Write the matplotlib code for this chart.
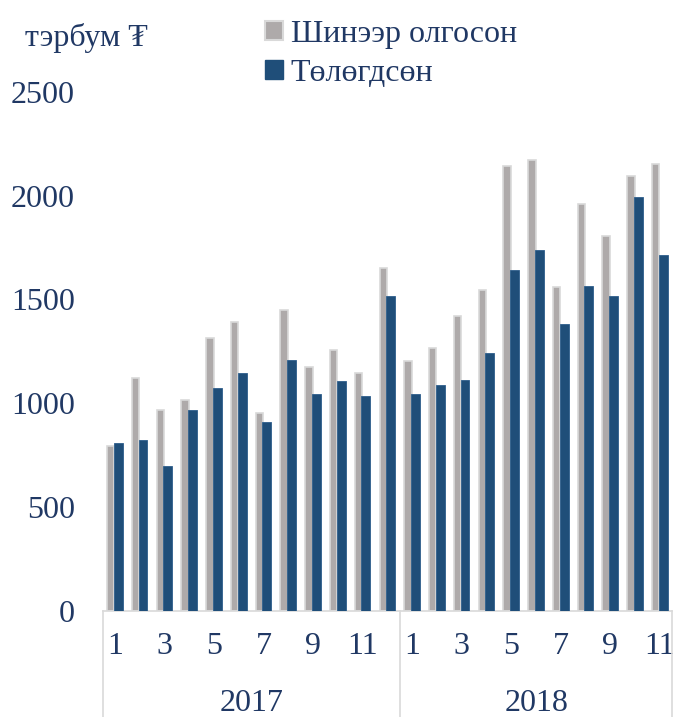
import numpy as np
import matplotlib.pyplot as plt
from matplotlib.patches import Patch
from matplotlib.transforms import blended_transform_factory

# Сарууд ба жилүүд
years = ['2017', '2018']
months_2017 = list(range(1, 13))
months_2018 = list(range(1, 12))
months = months_2017 + months_2018

# Шинээр олгосон зээл (тэрбум ₮)
issued = [795, 1123, 966, 1018, 1316, 1391, 953, 1447, 1175, 1258, 1147, 1652,
          1203, 1268, 1418, 1543, 2141, 2171, 1559, 1960, 1804, 2093, 2151]
# Төлөгдсөн зээл (тэрбум ₮)
repaid = [809, 822, 697, 966, 1072, 1147, 910, 1207, 1043, 1107, 1034, 1516,
          1043, 1088, 1114, 1242, 1643, 1740, 1383, 1564, 1516, 1995, 1714]

text_color = '#203864'
grey = '#aeaaaa'
blue = '#1f4e79'
fs = 23

plt.rcParams['font.family'] = ['Liberation Serif', 'DejaVu Serif']

fig = plt.figure(figsize=(6.75, 7.17), dpi=100)
ax = fig.add_axes([0.152, 0.148, 0.844, 0.724])

x = np.arange(len(months))
ax.bar(x - 0.17, issued, width=0.30, color=grey, edgecolor='#d9d9d9', linewidth=1.2, zorder=2)
ax.bar(x + 0.13, repaid, width=0.36, color=blue, edgecolor='#2e5e8c', linewidth=0.6, zorder=3)

ax.set_xlim(-0.5, len(months) - 0.5)
ax.set_ylim(0, 2500)
ax.set_yticks(range(0, 2501, 500))
ax.tick_params(axis='y', length=0, labelsize=fs, labelcolor=text_color, pad=20)
for s in ['top', 'right', 'left']:
    ax.spines[s].set_visible(False)
ax.spines['bottom'].set_color('#d9d9d9')
ax.spines['bottom'].set_linewidth(1.2)

# Сарын шошго (сондгой сарууд)
ax.set_xticks(x)
ax.set_xticklabels([str(m) if m % 2 == 1 else '' for m in months])
ax.tick_params(axis='x', length=0, labelsize=fs, labelcolor=text_color, pad=15)

# Жилийн шошго ба тусгаарлагч шугам
trans = blended_transform_factory(ax.transData, ax.transAxes)
bounds = [-0.5, len(months_2017) - 0.5, len(months) - 0.5]
for b in bounds:
    ax.plot([b, b], [0, -0.25], transform=trans, color='#d9d9d9', lw=1.2, clip_on=False)
for i, yr in enumerate(years):
    ax.text((bounds[i] + bounds[i + 1]) / 2, -0.178, yr, transform=trans,
            ha='center', va='center', fontsize=fs, color=text_color)

fig.text(0.037, 0.936, 'тэрбум ₮', fontsize=fs, color=text_color, ha='left', va='baseline')

handles = [Patch(facecolor=grey, edgecolor='#d9d9d9', linewidth=1.5),
           Patch(facecolor=blue, edgecolor=blue)]
fig.legend(handles, ['Шинээр олгосон', 'Төлөгдсөн'], loc='upper left',
           bbox_to_anchor=(0.35, 1.012), frameon=False, fontsize=fs,
           handlelength=0.55, handleheight=0.55, handletextpad=0.25,
           labelspacing=0.3, labelcolor=text_color)

fig.savefig('out.png', dpi=100)
